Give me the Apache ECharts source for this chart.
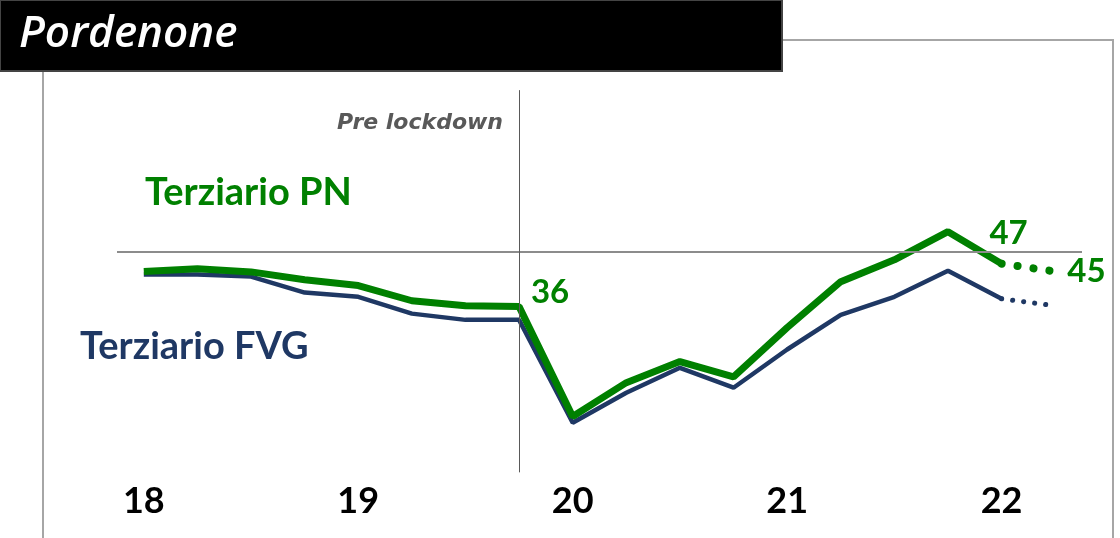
<!DOCTYPE html>
<html>
<head>
<meta charset="utf-8">
<script src="https://cdn.jsdelivr.net/npm/echarts@6/dist/echarts.min.js"></script>
<style>
  html, body { margin: 0; padding: 0; background: #fff; }
  #chart { width: 1120px; height: 538px; }
</style>
</head>
<body>
<div id="chart"></div>
<script>
// trimestri 2018Q1 - 2022Q2
var quarters = ['18Q1','18Q2','18Q3','18Q4','19Q1','19Q2','19Q3','19Q4',
                '20Q1','20Q2','20Q3','20Q4','21Q1','21Q2','21Q3','21Q4','22Q1','22Q2'];
// Terziario PN (ultimo punto = previsione)
var pnValues = [45.0, 45.7, 44.9, 42.9, 41.4, 37.5, 36.2, 36, 7.8, 16.5, 21.9, 18.0,
                30.6, 42.4, 48.0, 55.2, 47, 45];
// Terziario FVG
var fvgValues = [44.2, 44.2, 43.7, 39.6, 38.5, 34.2, 32.6, 32.6, 6.2, 13.9, 20.3, 15.2,
                 25.0, 33.9, 38.5, 45.2, 38.0, 36.2];
var pnLabelIdx = [7, 16, 17];
var refLevel = 50;
var lockdownIdx = 7;

var green = '#008000';
var navy = '#1f3864';
var FONT = 'Lato';

var last = quarters.length - 1;

// spostamento delle etichette dei valori
var labelOffsets = { 7: [31, 7], 16: [7, -9] };

function solidPart(vals, labels) {
    return vals.map(function (v, i) {
        if (i === last) return null;
        var item = { value: v };
        if (labels && labels.indexOf(i) >= 0) {
            item.symbol = 'circle';
            item.symbolSize = 0.1;
            item.label = { show: true, offset: labelOffsets[i] };
        }
        return item;
    });
}
function dottedPart(vals, labels) {
    return vals.map(function (v, i) {
        if (i < last - 1) return null;
        var item = { value: v };
        if (labels && i === last && labels.indexOf(i) >= 0) {
            item.symbol = 'circle';
            item.symbolSize = 0.1;
            item.label = { show: true };
        }
        return item;
    });
}

var chart = echarts.init(document.getElementById('chart'));

var option = {
    animation: false,
    grid: { left: 117, right: 38, top: 57, bottom: 52 },
    xAxis: {
        type: 'category',
        data: quarters,
        boundaryGap: true,
        axisLine: { show: false },
        axisTick: { show: false },
        axisLabel: {
            interval: 3,
            margin: -3,
            fontFamily: FONT,
            fontWeight: 'bold',
            fontSize: 36,
            color: '#000',
            formatter: function (v) { return v.slice(0, 2); }
        }
    },
    yAxis: {
        type: 'value',
        min: -10,
        max: 100,
        show: false,
        splitLine: { show: false }
    },
    graphic: [
        // cornice grigia
        { type: 'rect', shape: { x: 43, y: 40, width: 1070, height: 520 },
          style: { fill: 'none', stroke: '#a6a6a6', lineWidth: 2 }, z: 1 },
        // box titolo
        { type: 'rect', shape: { x: 0, y: 0, width: 782, height: 71 },
          style: { fill: '#000', stroke: '#444', lineWidth: 2 }, z: 2 },
        { type: 'text', left: 19, top: 12, z: 3,
          style: { text: 'Pordenone', fill: '#fff', font: 'italic 600 44px "Open Sans"' } },
        { type: 'text', left: 145, top: 174, z: 3,
          style: { text: 'Terziario PN', fill: green, font: 'bold 38px ' + FONT } },
        { type: 'text', left: 80, top: 328, z: 3,
          style: { text: 'Terziario FVG', fill: navy, font: 'bold 38px ' + FONT } },
        { type: 'text', right: 617, top: 112, z: 3,
          style: { text: 'Pre lockdown', fill: '#595959', font: 'oblique bold 22px "DejaVu Sans"' } }
    ],
    series: [
        {
            name: 'Terziario FVG',
            type: 'line',
            data: solidPart(fvgValues),
            symbol: 'none',
            lineStyle: { color: navy, width: 4.5 },
            z: 3,
            markLine: {
                silent: true,
                symbol: 'none',
                label: { show: false },
                data: [
                    { yAxis: refLevel, lineStyle: { color: '#8c8c8c', width: 2, type: 'solid' } },
                    [
                        { coord: [lockdownIdx, 91.5] },
                        { coord: [lockdownIdx, -6.5] }
                    ]
                ],
                lineStyle: { color: '#595959', width: 1, type: 'solid' }
            }
        },
        {
            name: 'Terziario FVG prev',
            type: 'line',
            data: dottedPart(fvgValues),
            symbol: 'none',
            lineStyle: { color: navy, width: 5, type: [0.1, 11], cap: 'round' },
            z: 3
        },
        {
            name: 'Terziario PN',
            type: 'line',
            data: solidPart(pnValues, pnLabelIdx),
            symbol: 'none',
            itemStyle: { color: green },
            lineStyle: { color: green, width: 7 },
            label: {
                position: 'top', fontFamily: FONT, fontWeight: 'bold', fontSize: 33, color: green
            },
            z: 4
        },
        {
            name: 'Terziario PN prev',
            type: 'line',
            data: dottedPart(pnValues, pnLabelIdx),
            symbol: 'none',
            itemStyle: { color: green },
            lineStyle: { color: green, width: 8, type: [0.1, 16], cap: 'round' },
            label: {
                position: 'right', distance: 12, fontFamily: FONT, fontWeight: 'bold', fontSize: 33, color: green
            },
            z: 4
        }
    ]
};

chart.setOption(option);
</script>
</body>
</html>
